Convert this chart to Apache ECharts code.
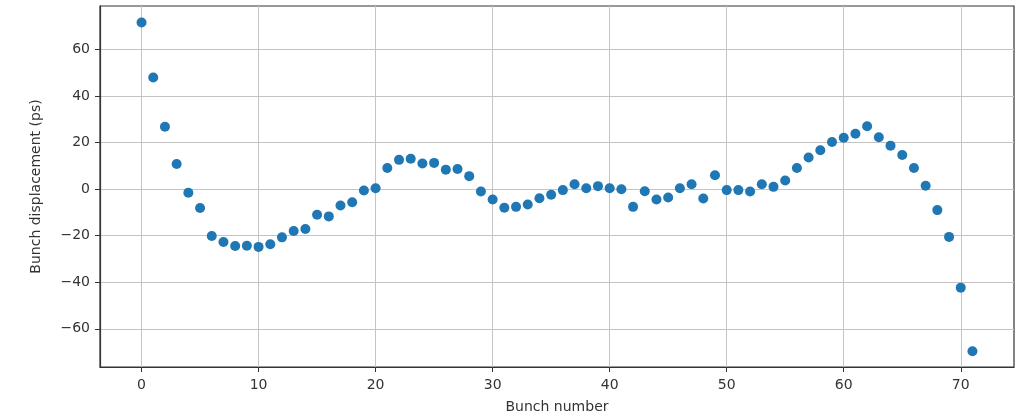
<!DOCTYPE html>
<html>
<head>
<meta charset="utf-8">
<script src="https://cdn.jsdelivr.net/npm/echarts@6/dist/echarts.min.js"></script>
<style>
  html, body { margin: 0; padding: 0; background: #fff; }
  #chart { width: 1025px; height: 419px; }
</style>
</head>
<body>
<div id="chart"></div>
<script>
// Bunch displacement measured for each bunch along the train
const bunchNumbers = Array.from({ length: 72 }, (_, i) => i);
const displacement = [
  71.6, 48.0, 26.8, 10.8, -1.5, -8.1, -20.1, -22.7, -24.4, -24.3,
  -24.8, -23.7, -20.7, -18.0, -17.1, -11.0, -11.7, -7.0, -5.6, -0.6,
  0.4, 9.1, 12.6, 13.1, 11.0, 11.3, 8.4, 8.7, 5.6, -1.0,
  -4.4, -8.0, -7.6, -6.6, -3.9, -2.4, -0.4, 2.1, 0.4, 1.3,
  0.4, 0.0, -7.6, -0.9, -4.4, -3.6, 0.4, 2.1, -4.0, 6.0,
  -0.4, -0.4, -1.0, 2.1, 1.0, 3.7, 9.1, 13.6, 16.7, 20.3,
  22.1, 23.8, 27.0, 22.3, 18.7, 14.7, 9.1, 1.5, -9.0, -20.5,
  -42.3, -69.6
];
const xTicks = [0, 10, 20, 30, 40, 50, 60, 70];
const yTicks = [-60, -40, -20, 0, 20, 40, 60];

const points = bunchNumbers.map((b, i) => [b, displacement[i]]);

const chart = echarts.init(document.getElementById('chart'), null, { renderer: 'canvas' });
const textColor = '#333';
const fontFamily = 'DejaVu Sans';

chart.setOption({
  animation: false,
  backgroundColor: '#ffffff',
  grid: {
    left: 100, right: 11, top: 6, bottom: 50,
    show: true, borderColor: '#333', borderWidth: 1.2, backgroundColor: 'transparent'
  },
  xAxis: {
    type: 'value',
    min: -3.55, max: 74.55,
    name: 'Bunch number',
    nameLocation: 'middle',
    nameGap: 33,
    nameTextStyle: { color: textColor, fontSize: 14, fontFamily },
    axisLine: { show: true, onZero: false, lineStyle: { color: '#333', width: 1.2 } },
    axisTick: { show: true, inside: false, length: 5, customValues: xTicks, lineStyle: { color: '#333' } },
    axisLabel: { customValues: xTicks, color: textColor, fontSize: 14, fontFamily, margin: 11 },
    splitLine: { show: true, lineStyle: { color: '#c4c4c4', width: 1 } }
  },
  yAxis: {
    type: 'value',
    min: -76.4, max: 78.7,
    name: 'Bunch displacement (ps)',
    nameLocation: 'middle',
    nameGap: 57,
    nameRotate: 90,
    nameTextStyle: { color: textColor, fontSize: 14, fontFamily },
    axisLine: { show: true, onZero: false, lineStyle: { color: '#333', width: 1.2 } },
    axisTick: { show: true, inside: false, length: 5, customValues: yTicks, lineStyle: { color: '#333' } },
    axisLabel: {
      customValues: yTicks, color: textColor, fontSize: 14, fontFamily, margin: 10,
      formatter: v => (v < 0 ? '\u2212' + Math.abs(v) : String(v))
    },
    splitLine: { show: true, lineStyle: { color: '#c4c4c4', width: 1 } }
  },
  series: [{
    type: 'scatter',
    data: points,
    symbol: 'circle',
    symbolSize: 10,
    itemStyle: { color: '#1f77b4', opacity: 1 }
  }]
});
</script>
</body>
</html>
